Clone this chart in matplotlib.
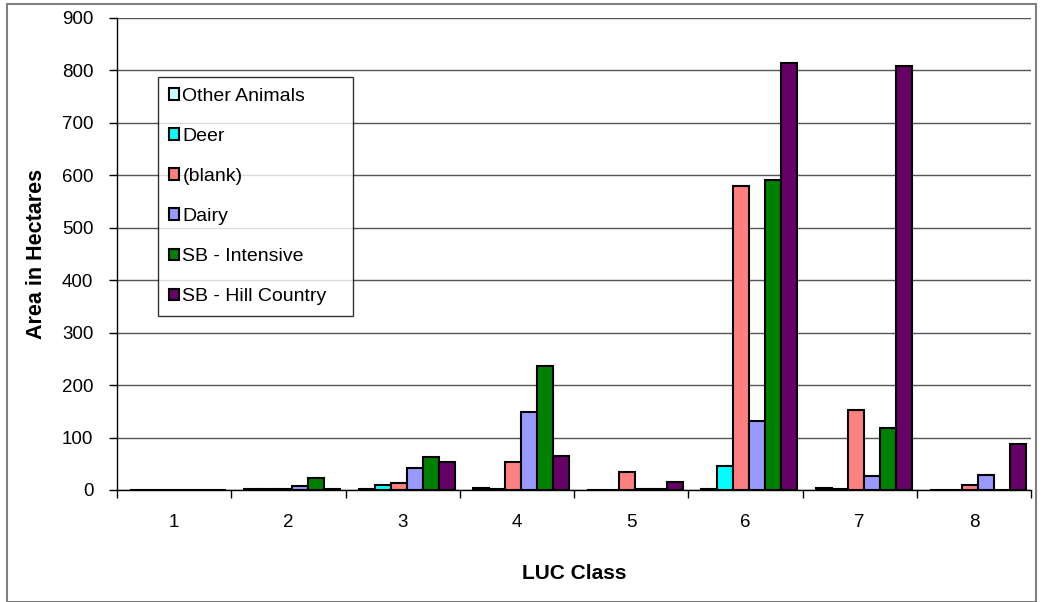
import matplotlib
matplotlib.use("Agg")
import matplotlib.pyplot as plt
import numpy as np
from matplotlib.patches import Patch, Rectangle

classes = ["1", "2", "3", "4", "5", "6", "7", "8"]
series_names = ["Other Animals", "Deer", "(blank)", "Dairy", "SB - Intensive", "SB - Hill Country"]
other_animals = [0, 1, 1, 3, 0, 1, 4, 0]
deer = [0, 1, 9, 1, 0, 46, 1, 0]
blank = [0, 1, 13, 53, 34, 579, 152, 9]
dairy = [0, 7, 41, 149, 1, 131, 27, 28]
sb_intensive = [0, 23, 62, 237, 1, 592, 118, 0]
sb_hill = [0, 2, 53, 65, 15, 815, 809, 87]
colors = ["#CCFFFF", "#00FFFF", "#FF8080", "#9999FF", "#008000", "#660066"]

plt.rcParams['font.family'] = ['Liberation Sans', 'DejaVu Sans']

W, H = 1064, 602
fig = plt.figure(figsize=(W / 100, H / 100), dpi=100)

ax = fig.add_axes([117 / W, 1 - 490 / H, (1031 - 117) / W, (490 - 18) / H])
data = [other_animals, deer, blank, dairy, sb_intensive, sb_hill]
x = np.arange(len(classes))
bw = 0.14
for k, (vals, c, name) in enumerate(zip(data, colors, series_names)):
    ax.bar(x + (k - 2.5) * bw + 0.035, vals, width=bw, color=c, edgecolor="black",
           linewidth=1.5, label=name, zorder=3)

ax.set_xlim(-0.5, len(classes) - 0.5)
ax.set_ylim(0, 900)
ax.set_yticks(np.arange(0, 901, 100))
ax.yaxis.grid(True, color="#555555", linewidth=1.0, zorder=0)
ax.set_axisbelow(True)
ax.set_xticks(x)
ax.set_xticklabels(classes, fontsize=13.5)
ax.set_xticks(np.arange(-0.5, len(classes), 1), minor=True)
ax.tick_params(axis="x", which="major", length=0, pad=17)
ax.tick_params(axis="x", which="minor", length=6, direction="out", width=1)
ax.tick_params(axis="y", length=6, direction="out", width=1, labelsize=13.5, pad=11)
for s in ["top", "right"]:
    ax.spines[s].set_visible(False)
for s in ["left", "bottom"]:
    ax.spines[s].set_color("black")
    ax.spines[s].set_linewidth(1.0)

ax.set_xlabel("LUC Class", fontsize=15, fontweight="bold", labelpad=24)
ax.set_ylabel("Area in Hectares", fontsize=15.5, fontweight="bold", labelpad=11)

handles = [Patch(facecolor=c, edgecolor="black", linewidth=1.5) for c in colors]
leg = fig.legend(handles, series_names, loc="upper left",
                 bbox_to_anchor=(158 / W, 1 - 77 / H, (353 - 158) / W, 0), mode="expand",
                 borderaxespad=0, fontsize=14, frameon=True, fancybox=False,
                 handlelength=0.55, handleheight=0.55, handletextpad=0.15,
                 labelspacing=1.19, borderpad=0.55)
leg.get_frame().set_edgecolor("black")
leg.get_frame().set_linewidth(1.0)

fig.patches.append(Rectangle((7 / W, 0), (1036 - 7) / W, 1 - 4 / H, transform=fig.transFigure,
                             fill=False, edgecolor="#808080", linewidth=1.5))

fig.savefig("out.png", dpi=100)
